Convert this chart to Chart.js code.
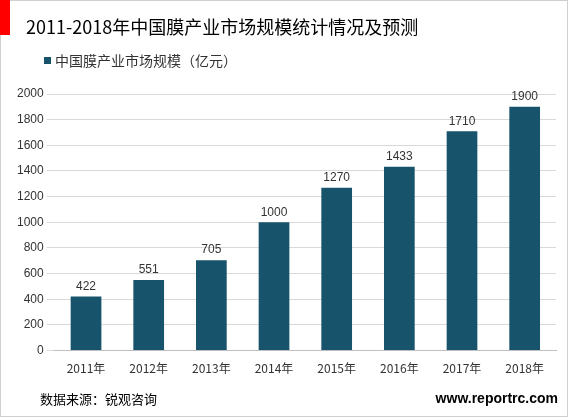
<!DOCTYPE html>
<html><head><meta charset="utf-8">
<script src="https://cdn.jsdelivr.net/npm/chart.js@4"></script>
<style>html,body{margin:0;padding:0;background:#fff}#wrap{width:568px;height:417px;position:relative}</style>
</head><body><div id="wrap"><canvas id="c"></canvas></div>
<script>
const categories = ["2011年","2012年","2013年","2014年","2015年","2016年","2017年","2018年"];
const values = [422, 551, 705, 1000, 1270, 1433, 1710, 1900];
const seriesName = "中国膜产业市场规模（亿元）";
const titleText = "2011-2018年中国膜产业市场规模统计情况及预测";
const FONT = '"Microsoft YaHei","Noto Sans CJK SC",sans-serif';
const barColor = "#17546b";

const deco = {
  id: "deco",
  afterDraw(chart) {
    const ctx = chart.ctx;
    ctx.save();
    ctx.strokeStyle = "#d0d0d0"; ctx.lineWidth = 1;
    ctx.strokeRect(0.5, 0.5, 567, 416);
    ctx.fillStyle = "#ff0000"; ctx.fillRect(0, 0, 10, 35);
    ctx.fillStyle = "#000"; ctx.font = "18px " + FONT; ctx.textBaseline = "middle";
    ctx.fillText(titleText, 26, 27);
    ctx.fillStyle = barColor; ctx.fillRect(44, 57, 7, 7);
    ctx.fillStyle = "#333"; ctx.font = "14px " + FONT;
    ctx.fillText(seriesName, 55, 61);
    ctx.fillStyle = "#000"; ctx.font = "13px " + FONT;
    ctx.fillText("数据来源：锐观咨询", 40, 399);
    ctx.font = "bold 14px Arial, sans-serif"; ctx.textAlign = "right";
    ctx.fillText("www.reportrc.com", 558, 399);
    const meta = chart.getDatasetMeta(0);
    ctx.font = "12px Arial, sans-serif"; ctx.textAlign = "center"; ctx.textBaseline = "bottom";
    ctx.fillStyle = "#333";
    meta.data.forEach((b, i) => ctx.fillText(values[i], b.x, b.y - 4));
    ctx.restore();
  }
};

new Chart(document.getElementById("c"), {
  type: "bar",
  data: { labels: categories, datasets: [{ label: seriesName, data: values, backgroundColor: barColor,
    barPercentage: 0.49, categoryPercentage: 1 }] },
  options: {
    responsive: true, maintainAspectRatio: false, animation: false,
    layout: { padding: { top: 94, bottom: 38, left: 14, right: 12 } },
    plugins: { legend: { display: false }, tooltip: { enabled: false } },
    scales: {
      x: { grid: { display: false }, border: { color: "#bfbfbf" },
        ticks: { color: "#333", font: { size: 12, family: FONT } } },
      y: { min: 0, max: 2000, ticks: { stepSize: 200, color: "#333", font: { size: 12, family: "Arial" },
          callback: v => String(v) },
        grid: { color: "#d9d9d9" }, border: { display: false } }
    }
  },
  plugins: [deco]
});
</script></body></html>
